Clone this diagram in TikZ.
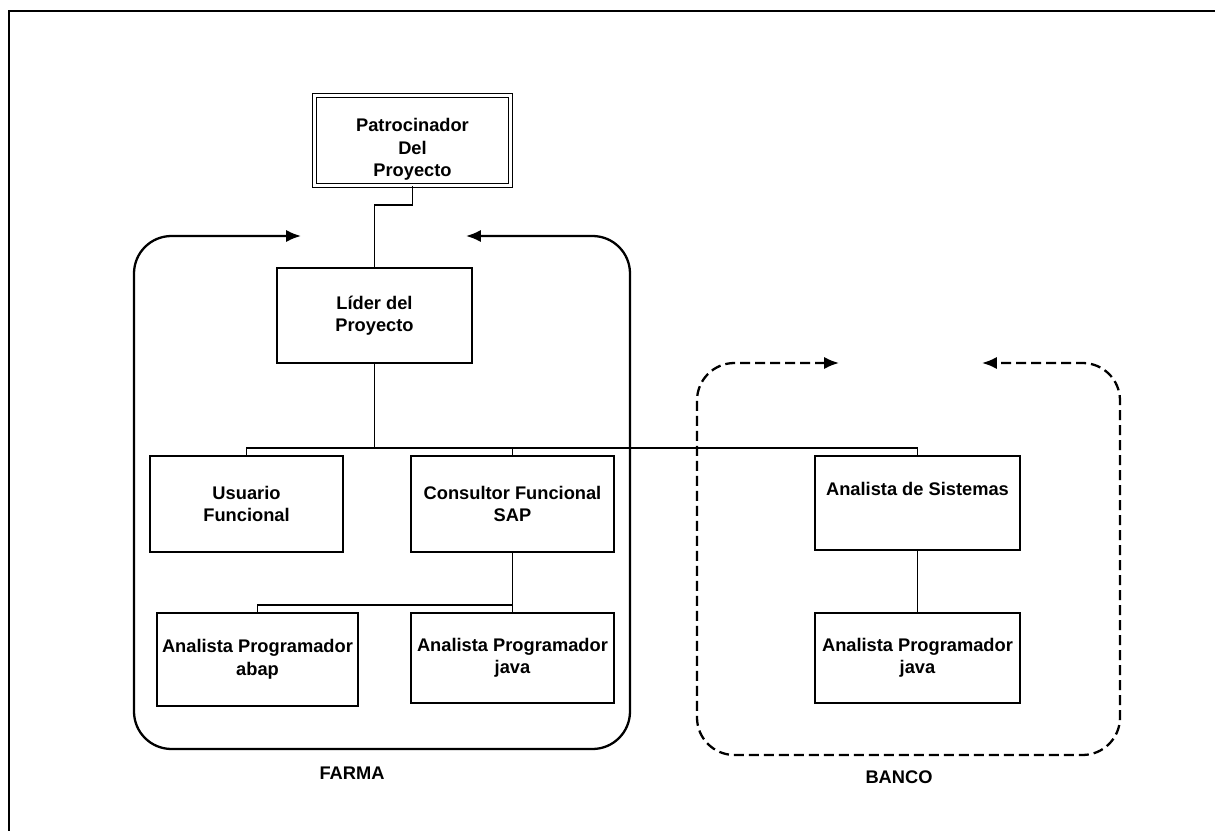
\documentclass[tikz,border=0pt]{standalone}
\usepackage{fontspec}
\setmainfont{Liberation Sans}
\usetikzlibrary{arrows.meta}

\begin{document}
\begin{tikzpicture}[x=0.02cm,y=-0.02cm,
  box/.style={draw, line width=1.2pt, inner sep=0pt, align=center,
    font=\bfseries\fontsize{10.4}{12.8}\selectfont},
  link/.style={line width=0.75pt},
  grp/.style={line width=1.3pt, rounded corners=0.75cm,
    {Latex[length=8.5pt,width=7pt]}-{Latex[length=8.5pt,width=7pt]}},
  grplabel/.style={font=\bfseries\fontsize{10.4}{12.8}\selectfont},
]
\useasboundingbox (0,0) rectangle (1215,831);

% page frame
\draw[line width=1.1pt] (9,831) -- (9,11) -- (1215,11);

% roles
\node[box, double, double distance=1.3pt, line width=0.8pt,
      minimum width=3.92cm, minimum height=1.80cm] (pat) at (412.5,140.5)
      {\rule{0pt}{18pt}Patrocinador\\Del\\Proyecto};
\node[box, minimum width=3.90cm, minimum height=1.90cm] (lider) at (374.5,315.5) {Líder del\\Proyecto};
\node[box, minimum width=3.86cm, minimum height=1.92cm] (usuario) at (246.5,504) {Usuario\\Funcional};
\node[box, minimum width=4.06cm, minimum height=1.92cm] (consultor) at (512.5,504) {Consultor Funcional\\SAP};
\node[box, minimum width=4.02cm, minimum height=1.86cm] (abap) at (257.5,659.5) {Analista Programador\\abap};
\node[box, minimum width=4.06cm, minimum height=1.80cm] (javaF) at (512.5,658) {Analista Programador\\java};
\node[box, minimum width=4.10cm, minimum height=1.88cm] (sistemas) at (917.5,503) {Analista de Sistemas\\\strut};
\node[box, minimum width=4.10cm, minimum height=1.80cm] (javaB) at (917.5,658) {Analista Programador\\java};

% reporting lines
\coordinate (top) at (374.5,205);
\coordinate (bus) at (374.5,449);
\draw[link] (pat.south) |- (top) -- (lider.north);
\draw[link] (lider.south) -- (bus);
\draw[link] (usuario.north) -- ++(0,-7) -| (sistemas.north);
\draw[link] (consultor.north) -- ++(0,-7);
\draw[link] (consultor.south) -- (javaF.north);
\draw[link] (abap.north) -- ++(0,-7) -| (consultor.south);
\draw[link] (sistemas.south) -- (javaB.north);

% organisation groups
\coordinate (fa) at (301,236);
\coordinate (fb) at (466,236);
\draw[grp] (fa) -- (134,236) -- (134,749) -- (630,749) -- (630,236) -- (fb);
\node[grplabel] (farma) at (352,773) {FARMA};

\coordinate (ba) at (839,363);
\coordinate (bb) at (982,363);
\draw[grp, dash pattern=on 0.2cm off 0.1cm] (ba) -- (697,363) -- (697,755) -- (1120,755) -- (1120,363) -- (bb);
\node[grplabel] (banco) at (899,777) {BANCO};
\end{tikzpicture}
\end{document}
